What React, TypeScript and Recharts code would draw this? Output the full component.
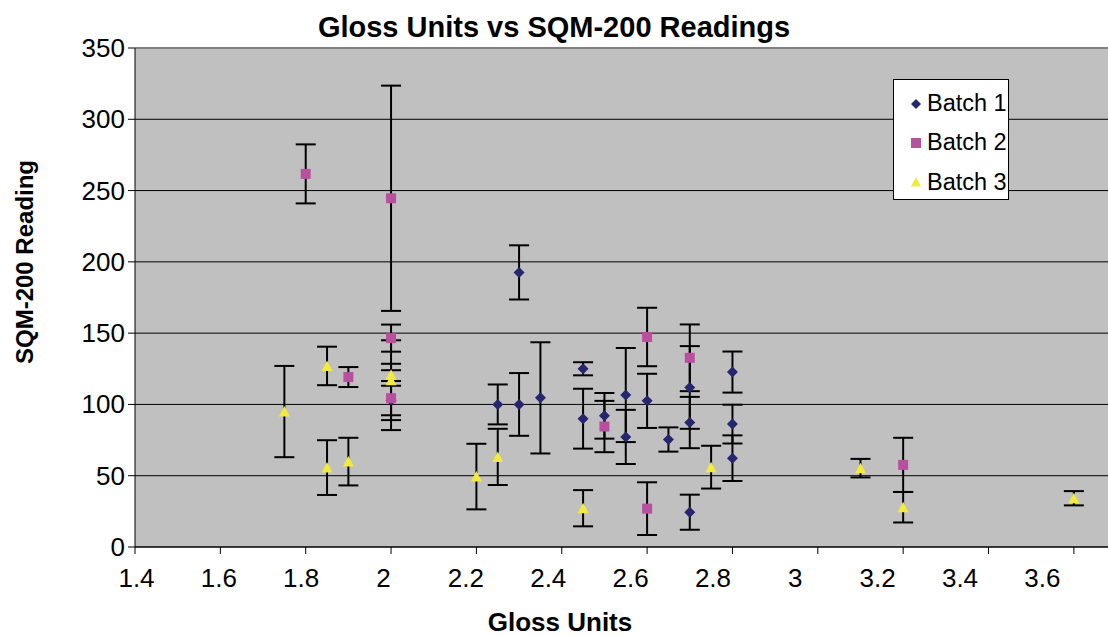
import { ScatterChart, Scatter, XAxis, YAxis, CartesianGrid, ErrorBar, ReferenceLine } from 'recharts';

const FONT = '"Liberation Sans", Arial, sans-serif';

const NAVY = '#26266f';
const MAGENTA = '#b8509f';
const YELLOW = '#f2ea3c';

// gloss units / SQM-200 reading / error (+/-) for each batch
const batch1X = [2.0, 2.25, 2.3, 2.3, 2.35, 2.45, 2.45, 2.5, 2.55, 2.55, 2.6, 2.65, 2.7, 2.7, 2.7, 2.8, 2.8, 2.8];
const batch1Y = [103, 100, 192.6, 100, 104.6, 125, 90, 92, 106.6, 77.2, 102.5, 75.4, 111.9, 87.3, 24.4, 122.7, 86.2, 62.3];
const batch1Err = [21, 14, 19, 22, 39, 4.6, 21, 16, 33, 19, 19, 8.5, 29, 18, 12.3, 14.4, 13.6, 16];

const batch2X = [1.8, 1.9, 2.0, 2.0, 2.0, 2.5, 2.6, 2.6, 2.7, 3.2];
const batch2Y = [261.7, 119.2, 244.6, 146.5, 104.4, 84.5, 147.3, 26.9, 132.7, 57.6];
const batch2Err = [20.7, 7, 79, 9.5, 12, 18, 20.5, 18.5, 23.4, 19];

const batch3X = [1.75, 1.85, 1.85, 1.9, 2.0, 2.0, 2.2, 2.25, 2.45, 2.75, 3.1, 3.2, 3.6];
const batch3Y = [95, 127, 55.7, 59.9, 120.8, 117, 49.4, 63.2, 27.2, 56, 55.3, 27.9, 34.2];
const batch3Err = [32, 13.5, 19.2, 16.7, 7.7, 28, 23, 19.7, 12.7, 15, 6.5, 10.7, 5];

const seriesNames = ['Batch 1', 'Batch 2', 'Batch 3'];
const xTicks = [1.4, 1.6, 1.8, 2, 2.2, 2.4, 2.6, 2.8, 3, 3.2, 3.4, 3.6];
const yTicks = [0, 50, 100, 150, 200, 250, 300, 350];

const toPoints = (xs: number[], ys: number[], errs: number[]) =>
  xs.map((x, i) => ({ x, y: ys[i], err: errs[i] }));

const batch1 = toPoints(batch1X, batch1Y, batch1Err);
const batch2 = toPoints(batch2X, batch2Y, batch2Err);
const batch3 = toPoints(batch3X, batch3Y, batch3Err);

const Diamond = ({ cx, cy }: any) => (
  <polygon points={`${cx},${cy - 5.5} ${cx + 5.5},${cy} ${cx},${cy + 5.5} ${cx - 5.5},${cy}`} fill={NAVY} />
);
const Square = ({ cx, cy }: any) => (
  <rect x={cx - 5} y={cy - 5} width={10} height={10} fill={MAGENTA} />
);
const Triangle = ({ cx, cy }: any) => (
  <polygon points={`${cx},${cy - 5.5} ${cx + 5.5},${cy + 5} ${cx - 5.5},${cy + 5}`} fill={YELLOW} />
);

// excel drew the x labels slightly drifting left of their tick marks
const XTick = ({ x, y, payload, index }: any) => (
  <text x={x + 1.5 - 3 * index} y={y} dy={31} textAnchor="middle" fontSize={26} fontFamily={FONT} fill="#000">
    {payload.value}
  </text>
);

const YTick = ({ x, y, payload }: any) => (
  <text x={x + 3} y={y} dy={9} textAnchor="end" fontSize={26} fontFamily={FONT} fill="#000">
    {payload.value}
  </text>
);

const XTitle = () => (
  <text x={560} y={631} textAnchor="middle" fontSize={26} fontWeight="bold" fontFamily={FONT} fill="#000">
    Gloss Units
  </text>
);

const YTitle = () => (
  <text
    x={24}
    y={262}
    transform="rotate(-90, 24, 262)"
    textAnchor="middle"
    dominantBaseline="central"
    fontSize={24}
    fontWeight="bold"
    fontFamily={FONT}
    fill="#000"
  >
    SQM-200 Reading
  </text>
);

const legendMarkers = [
  <svg width={12} height={12} key="d"><polygon points="6,1 11,6 6,11 1,6" fill={NAVY} /></svg>,
  <svg width={12} height={12} key="s"><rect x={1} y={1} width={10} height={10} fill={MAGENTA} /></svg>,
  <svg width={12} height={12} key="t"><polygon points="6,1 11,10.5 1,10.5" fill={YELLOW} /></svg>,
];

export default function App() {
  return (
    <div style={{ position: 'absolute', left: 0, top: 0, width: 1108, height: 636, background: '#fff', fontFamily: FONT }}>
      <ScatterChart width={1108} height={636} margin={{ top: 48, right: 0, bottom: 0, left: 0 }}>
        <CartesianGrid vertical={false} stroke="#000" fill="#c0c0c0" fillOpacity={1} />
        <ReferenceLine y={350} stroke="#808080" strokeWidth={2} />
        <XAxis
          type="number"
          dataKey="x"
          domain={[1.4, 3.68]}
          ticks={xTicks}
          allowDataOverflow
          height={89}
          tickSize={7}
          stroke="#000"
          tick={<XTick />}
          label={<XTitle />}
        />
        <YAxis
          type="number"
          dataKey="y"
          domain={[0, 350]}
          ticks={yTicks}
          width={135}
          tickSize={7}
          tickMargin={6}
          stroke="#000"
          tick={<YTick />}
          label={<YTitle />}
        />
        <Scatter name={seriesNames[0]} data={batch1} shape={<Diamond />} isAnimationActive={false}>
          <ErrorBar dataKey="err" direction="y" width={10} stroke="#000" strokeWidth={2} />
        </Scatter>
        <Scatter name={seriesNames[1]} data={batch2} shape={<Square />} isAnimationActive={false}>
          <ErrorBar dataKey="err" direction="y" width={10} stroke="#000" strokeWidth={2} />
        </Scatter>
        <Scatter name={seriesNames[2]} data={batch3} shape={<Triangle />} isAnimationActive={false}>
          <ErrorBar dataKey="err" direction="y" width={10} stroke="#000" strokeWidth={2} />
        </Scatter>
      </ScatterChart>

      <div
        style={{
          position: 'absolute',
          left: 0,
          top: 12,
          width: 1108,
          textAlign: 'center',
          fontSize: 29,
          fontWeight: 'bold',
          lineHeight: '30px',
        }}
      >
        Gloss Units vs SQM-200 Readings
      </div>

      <div
        style={{
          position: 'absolute',
          left: 893,
          top: 79,
          width: 116,
          height: 121,
          background: '#fff',
          border: '1px solid #000',
          boxSizing: 'border-box',
          paddingTop: 4,
        }}
      >
        {seriesNames.map((name, i) => (
          <div key={name} style={{ display: 'flex', alignItems: 'center', height: 39.3, fontSize: 23.5 }}>
            <span style={{ width: 33, display: 'flex', justifyContent: 'center', paddingLeft: 10, boxSizing: 'border-box' }}>
              {legendMarkers[i]}
            </span>
            <span>{name}</span>
          </div>
        ))}
      </div>
    </div>
  );
}
